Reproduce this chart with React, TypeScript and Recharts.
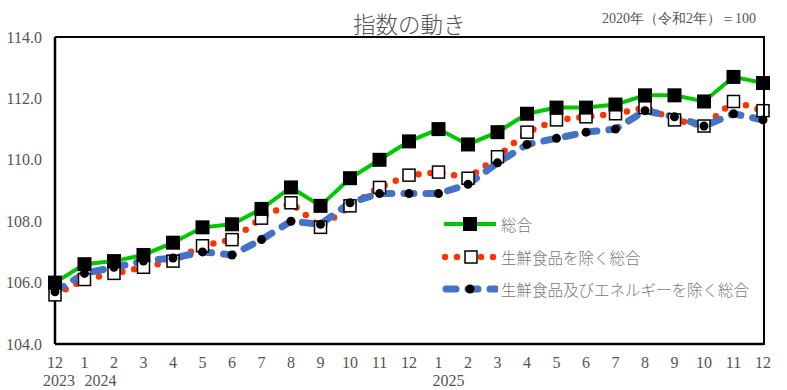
import React from 'react';
import { LineChart, Line, XAxis, YAxis } from 'recharts';

const monthLabels = ['12','1','2','3','4','5','6','7','8','9','10','11','12','1','2','3','4','5','6','7','8','9','10','11','12'];
const yearTickIndex = [0, 1, 13];
const yearTickText = ['2023', '2024', '2025'];

const sogo = [106.0,106.6,106.7,106.9,107.3,107.8,107.9,108.4,109.1,108.5,109.4,110.0,110.6,111.0,110.5,110.9,111.5,111.7,111.7,111.8,112.1,112.1,111.9,112.7,112.5];
const exFresh = [105.6,106.1,106.3,106.5,106.7,107.2,107.4,108.1,108.6,107.8,108.5,109.1,109.5,109.6,109.4,110.1,110.9,111.3,111.4,111.5,111.7,111.3,111.1,111.9,111.6];
const exFreshEnergy = [105.7,106.3,106.5,106.7,106.8,107.0,106.9,107.4,108.0,107.9,108.6,108.9,108.9,108.9,109.2,109.9,110.5,110.7,110.9,111.0,111.6,111.4,111.1,111.5,111.3];

const seriesNames = ['総合', '生鮮食品を除く総合', '生鮮食品及びエネルギーを除く総合'];
const yTicks = [104, 106, 108, 110, 112, 114];

const data = monthLabels.map((m, i) => ({ idx: i, a: sogo[i], b: exFresh[i], c: exFreshEnergy[i] }));

const GREEN = '#00c800';
const RED = '#ff3300';
const BLUE = '#4472c4';
const SERIF = '"Liberation Serif", "DejaVu Serif", serif';
const CJK = '"Noto Sans CJK JP", sans-serif';

const BlackSquare = (p: any) => {
  if (p.cx == null || p.cy == null) return <g key={p.key} />;
  return <rect key={p.key} x={p.cx - 7} y={p.cy - 7} width={14} height={14} fill="#000" />;
};
const OpenSquare = (p: any) => {
  if (p.cx == null || p.cy == null) return <g key={p.key} />;
  return <rect key={p.key} x={p.cx - 6} y={p.cy - 6} width={12} height={12} fill="#fff" stroke="#000" strokeWidth={1.5} />;
};
const BlackDot = (p: any) => {
  if (p.cx == null || p.cy == null) return <g key={p.key} />;
  return <circle key={p.key} cx={p.cx} cy={p.cy} r={4.5} fill="#000" />;
};

const XTick = (p: any) => {
  const i = p.payload.value;
  const yi = yearTickIndex.indexOf(i);
  const yearOffsets = [-12, 0, -6];
  return (
    <g>
      <text x={p.x} y={362} textAnchor="middle" dominantBaseline="central" fontFamily={SERIF} fontSize={16} fill="#555">
        {monthLabels[i]}
      </text>
      {yi >= 0 && (
        <text x={p.x + yearOffsets[yi]} y={380} textAnchor="start" dominantBaseline="central" fontFamily={SERIF} fontSize={16} fill="#555">
          {yearTickText[yi]}
        </text>
      )}
    </g>
  );
};

const YTick = (p: any) => (
  <text x={42} y={p.y} textAnchor="end" dominantBaseline="central" fontFamily={SERIF} fontSize={16} fill="#555">
    {Number(p.payload.value).toFixed(1)}
  </text>
);

const LegendBox = () => {
  const rows = [
    <svg width={56} height={20} key="a">
      <line x1={2} y1={10} x2={54} y2={10} stroke={GREEN} strokeWidth={4} />
      <rect x={21} y={3} width={14} height={14} fill="#000" />
    </svg>,
    <svg width={56} height={20} key="b">
      <line x1={3} y1={10} x2={54} y2={10} stroke={RED} strokeWidth={6.5} strokeLinecap="round" strokeDasharray="0 12" />
      <rect x={23} y={4} width={12} height={12} fill="#fff" stroke="#000" strokeWidth={1.5} />
    </svg>,
    <svg width={56} height={20} key="c">
      <line x1={4} y1={10} x2={54} y2={10} stroke={BLUE} strokeWidth={7} strokeLinecap="round" strokeDasharray="10 12" />
      <circle cx={28} cy={10} r={4.5} fill="#000" />
    </svg>,
  ];
  return (
    <div style={{ position: 'absolute', left: 442, top: 208 }}>
      {rows.map((r, i) => (
        <div key={i} style={{ display: 'flex', alignItems: 'center', height: 32.5 }}>
          {r}
          <span style={{ fontFamily: CJK, fontSize: 15.5, color: '#777', marginLeft: 3, whiteSpace: 'nowrap', fontWeight: 300 }}>{seriesNames[i]}</span>
        </div>
      ))}
    </div>
  );
};

export default function App() {
  return (
    <div style={{ position: 'absolute', left: 0, top: 0, width: 787, height: 390, background: '#fff' }}>
      <div style={{ position: 'absolute', left: 353, top: 7, fontFamily: CJK, fontSize: 22.5, color: '#555', whiteSpace: 'nowrap', fontWeight: 300 }}>指数の動き</div>
      <div style={{ position: 'absolute', left: 602, top: 10, fontFamily: SERIF, fontSize: 14, color: '#555', whiteSpace: 'nowrap' }}>2020年（令和2年）＝100</div>
      <LineChart width={787} height={390} data={data} margin={{ top: 37, right: 24, bottom: 0, left: 0 }}>
        <XAxis dataKey="idx" type="number" domain={[0, 24]} ticks={data.map((d) => d.idx)} interval={0}
          tick={<XTick />} tickLine={false} axisLine={{ stroke: '#000', strokeWidth: 2.5 }} height={46} />
        <YAxis domain={[104, 114]} ticks={yTicks} interval={0} tick={<YTick />} tickLine={false}
          axisLine={{ stroke: '#000', strokeWidth: 2.5 }} width={55} />
        <Line dataKey="b" stroke={RED} strokeWidth={6.5} strokeLinecap="round" strokeDasharray="0 12"
          dot={OpenSquare} activeDot={false} isAnimationActive={false} type="linear" />
        <Line dataKey="c" stroke={BLUE} strokeWidth={7} strokeLinecap="round" strokeDasharray="10 12"
          dot={BlackDot} activeDot={false} isAnimationActive={false} type="linear" />
        <Line dataKey="a" stroke={GREEN} strokeWidth={4} dot={BlackSquare} activeDot={false} isAnimationActive={false} type="linear" />
      </LineChart>
      <div style={{ position: 'absolute', left: 55, top: 36, width: 708, height: 307, borderTop: '2.5px solid #000', borderRight: '2.5px solid #000', pointerEvents: 'none' }} />
      <LegendBox />
    </div>
  );
}
